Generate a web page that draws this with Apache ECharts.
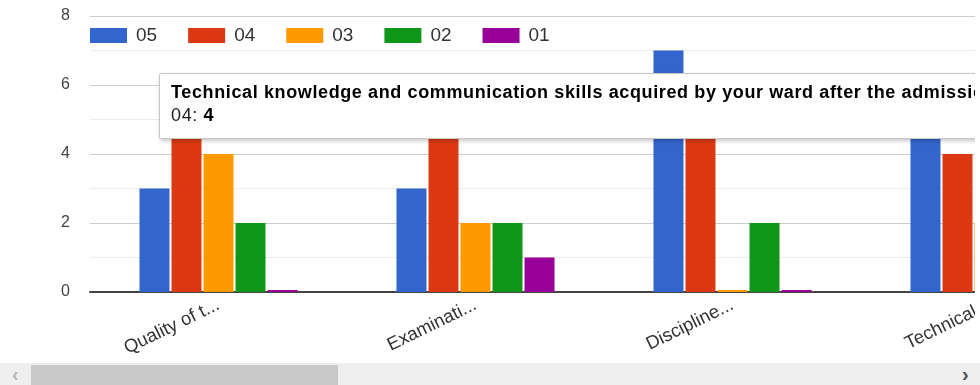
<!DOCTYPE html>
<html>
<head>
<meta charset="utf-8">
<script src="https://cdn.jsdelivr.net/npm/echarts@6/dist/echarts.min.js"></script>
<style>
  html, body { margin: 0; padding: 0; background: #fff; width: 980px; height: 385px; overflow: hidden; }
  #viewport { position: absolute; left: 0; top: 0; width: 975px; height: 363px; overflow: hidden; }
  #chart { position: absolute; left: 0; top: 0; width: 1200px; height: 363px; }
  #scroll { position: absolute; left: 0; top: 363px; width: 980px; height: 22px; background: #efefef; }
  #thumb { position: absolute; left: 31px; top: 2px; width: 307px; height: 20px; background: #c9c9c9; }
  .arrow { position: absolute; top: 0; font: bold 20px "Liberation Sans", Arial, sans-serif; line-height: 22px; }
  #left { left: 12px; color: #b8b8b8; }
  #right { left: 962px; color: #555; }
</style>
</head>
<body>
<div id="viewport"><div id="chart"></div></div>
<div id="scroll"><div id="thumb"></div><span class="arrow" id="left">&lsaquo;</span><span class="arrow" id="right">&rsaquo;</span></div>
<script>
// Survey questions (full text, shown in the tooltip) and their shortened axis labels
const categories = [
  'Quality of teaching',
  'Examination system',
  'Discipline maintained in the college',
  'Technical knowledge and communication skills acquired by your ward after the admission'
];
const tickLabels = ['Quality of t...', 'Examinati...', 'Discipline...', 'Technical...'];

// Number of responses per rating
const seriesNames = ['05', '04', '03', '02', '01'];
const r05 = [3, 3, 7, 6];
const r04 = [5, 6, 5, 4];
const r03 = [4, 2, 0, 2];
const r02 = [2, 2, 2, 1];
const r01 = [0, 1, 0, 0];
const yTicks = [0, 2, 4, 6, 8];

const colors = ['#3366cc', '#dc3912', '#ff9900', '#109618', '#990099'];
const values = [r05, r04, r03, r02, r01];
const FONT = '"Liberation Sans", Arial, sans-serif';

const chart = echarts.init(document.getElementById('chart'), null, { renderer: 'canvas' });

chart.setOption({
  animation: false,
  color: colors,
  textStyle: { fontFamily: FONT },
  grid: { left: 90, top: 16, width: 257 * categories.length, height: 276 },
  legend: {
    left: 90, top: 26, padding: 0,
    icon: 'rect', itemWidth: 37, itemHeight: 15, itemGap: 31,
    textStyle: { fontSize: 19, color: '#333', padding: [0, 0, 0, 4] },
    data: seriesNames
  },
  tooltip: {
    trigger: 'item',
    alwaysShowContent: true,
    transitionDuration: 0,
    confine: false,
    position: [159, 73],
    backgroundColor: '#fff',
    borderColor: '#c8c8c8',
    borderWidth: 1,
    padding: [7, 14, 11, 11],
    textStyle: { fontSize: 18, color: '#222', fontFamily: FONT },
    extraCssText: 'white-space:nowrap;border-radius:2px;box-shadow:1px 2px 4px rgba(0,0,0,0.22);line-height:23px;letter-spacing:0.62px;',
    formatter: p => '<b style="color:#000">' + categories[p.dataIndex] + '</b><br/>' +
      p.seriesName + ': <b style="color:#000">' + p.value + '</b>'
  },
  xAxis: {
    type: 'category',
    data: categories,
    axisLine: { lineStyle: { color: '#444', width: 2 } },
    axisTick: { show: false },
    axisLabel: {
      rotate: 26, margin: 12, fontSize: 18.5, color: '#333', interval: 0,
      formatter: (v, i) => tickLabels[i]
    }
  },
  yAxis: {
    type: 'value',
    min: 0, max: 8, interval: 1,
    axisLine: { show: false },
    axisTick: { show: false },
    axisLabel: {
      fontSize: 16, color: '#444', margin: 20,
      formatter: v => (yTicks.indexOf(v) >= 0 ? String(v) : '')
    },
    splitLine: { lineStyle: { color: ['#cccccc', '#ebebeb'], width: 1 } }
  },
  series: seriesNames.map((name, i) => ({
    name: name,
    type: 'bar',
    data: values[i],
    barWidth: 30,
    barGap: '6.7%',
    barMinHeight: 2,
    itemStyle: { color: colors[i] }
  }))
});

chart.dispatchAction({ type: 'showTip', seriesIndex: 1, dataIndex: 3 });
</script>
</body>
</html>
